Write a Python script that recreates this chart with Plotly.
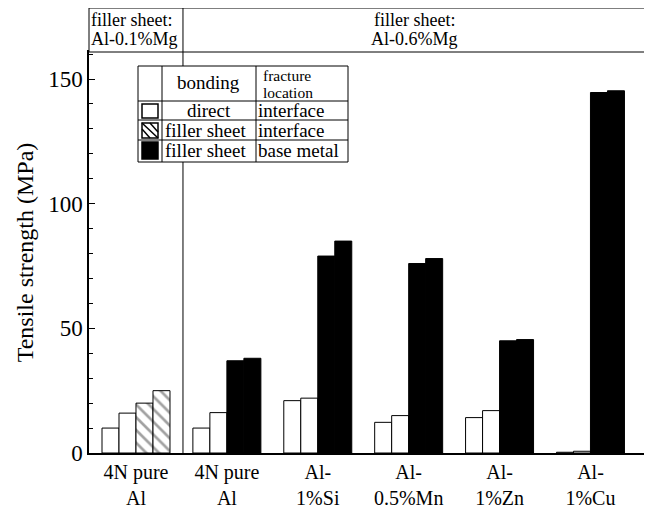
import plotly.graph_objects as go

categories = ["4N pure<br>Al", "4N pure<br>Al", "Al-<br>1%Si", "Al-<br>0.5%Mn", "Al-<br>1%Zn", "Al-<br>1%Cu"]
bar1 = [10, 10, 21, 12.3, 14.2, 0.3]
bar2 = [16, 16.2, 22, 15, 17, 0.7]
bar3 = [20, 37, 79, 76, 45, 144.6]
bar4 = [25, 38, 85, 78, 45.5, 145.3]
bar3_style = ["hatch", "solid", "solid", "solid", "solid", "solid"]
bar4_style = ["hatch", "solid", "solid", "solid", "solid", "solid"]

FONT = "Liberation Serif, Tinos, Times New Roman, DejaVu Serif, serif"
OFF = 8  # page body margin offset
W, H = 652 - OFF, 508 - OFF
# target plot area in page pixels
L, R, T, B = 89, 645, 52, 453

xs = list(range(len(categories)))

def px(X):
    return (X - L) / (R - L)

def py(Y):
    return (B - Y) / (B - T)

fig = go.Figure()

def add_bar(vals, styles):
    colors = ["black" if s == "solid" else "white" for s in styles]
    shapes = ["\\" if s == "hatch" else "" for s in styles]
    fig.add_trace(go.Bar(
        x=xs, y=vals,
        marker=dict(color=colors, line=dict(color="black", width=1),
                    pattern=dict(shape=shapes, fgcolor="black", size=9, solidity=0.3)),
        showlegend=False,
    ))

add_bar(bar1, ["open"] * 6)
add_bar(bar2, ["open"] * 6)
add_bar(bar3, bar3_style)
add_bar(bar4, bar4_style)

shapes = []
# header box
hdr_top = 1 + (T - 8) / (B - T)
shapes.append(dict(type="rect", xref="paper", yref="paper", x0=0, x1=1, y0=1, y1=hdr_top,
                   line=dict(color="black", width=1), fillcolor="white"))
# divider
shapes.append(dict(type="line", xref="x", yref="paper", x0=0.517, x1=0.517, y0=0, y1=hdr_top,
                   line=dict(color="black", width=1)))

# legend table
lx0, lx1, lc1, lc2 = 138, 348, 162, 256
ly0, ly1 = 66, 162
rows = [101, 120, 140]
shapes.append(dict(type="rect", xref="paper", yref="paper", x0=px(lx0), x1=px(lx1), y0=py(ly1), y1=py(ly0),
                   line=dict(color="black", width=1), fillcolor="white"))
for c in (lc1, lc2):
    shapes.append(dict(type="line", xref="paper", yref="paper", x0=px(c), x1=px(c), y0=py(ly1), y1=py(ly0),
                       line=dict(color="black", width=1)))
for r in rows:
    shapes.append(dict(type="line", xref="paper", yref="paper", x0=px(lx0), x1=px(lx1), y0=py(r), y1=py(r),
                       line=dict(color="black", width=1)))
# symbols
sym = [(104, 118, "white"), (123, 138, "hatch"), (142, 159, "black")]
for (y0, y1, kind) in sym:
    fill = "black" if kind == "black" else "white"
    shapes.append(dict(type="rect", xref="paper", yref="paper", x0=px(142), x1=px(158), y0=py(y1), y1=py(y0),
                       line=dict(color="black", width=1.5), fillcolor=fill))
    if kind == "hatch":
        for (a, b, c, d) in [(142, y0, 158, y1), (142, y0 + 6, 150, y1), (150, y0, 158, y1 - 6)]:
            shapes.append(dict(type="line", xref="paper", yref="paper", x0=px(a), x1=px(c), y0=py(b), y1=py(d),
                               line=dict(color="black", width=1.5)))

annotations = []
def txt(X, Y, s, size=16, anchor="center", yanchor="middle"):
    annotations.append(dict(xref="paper", yref="paper", x=px(X), y=py(Y), text=s, showarrow=False,
                            xanchor=anchor, yanchor=yanchor, borderpad=0, borderwidth=0,
                            font=dict(family=FONT, size=size, color="black")))

txt(91, 20, "filler sheet:", 18, "left")
txt(91, 39, "Al-0.1%Mg", 18, "left")
txt(414, 20, "filler sheet:", 18)
txt(414, 39, "Al-0.6%Mg", 18)
txt(208, 83, "bonding", 19)
txt(263, 83.5, "fracture", 15.5, "left", "bottom")
txt(263, 83.5, "location", 15.5, "left", "top")
txt(209, 110, "direct", 19)
txt(165, 130, "filler sheet", 19, "left")
txt(165, 150, "filler sheet", 19, "left")
txt(258, 110, "interface", 19, "left")
txt(258, 130, "interface", 19, "left")
txt(258, 150, "base metal", 19, "left")

fig.update_layout(
    width=W, height=H,
    margin=dict(l=L - OFF, r=W - (R - OFF), t=T - OFF, b=H - (B - OFF), pad=0),
    plot_bgcolor="white", paper_bgcolor="white",
    barmode="group", bargap=0.252, bargroupgap=0,
    shapes=shapes, annotations=annotations,
    font=dict(family=FONT, size=20, color="black"),
    xaxis=dict(range=[-0.517, 5.6], tickvals=xs, ticktext=categories, showgrid=False, zeroline=False,
               showline=True, linecolor="black", linewidth=1.5, mirror=True, ticks="", automargin=False,
               tickfont=dict(family=FONT, size=20, color="black")),
    yaxis=dict(range=[0, 160.85], tickvals=[0, 50, 100, 150], showgrid=False, zeroline=False,
               showline=True, linecolor="black", linewidth=1.5, mirror=True, ticks="inside",
               ticklen=6, tickcolor="black", automargin=False,
               minor=dict(dtick=10, ticks="inside", ticklen=4, tickcolor="black", showgrid=False),
               title=dict(text="Tensile strength (MPa)", font=dict(family=FONT, size=24, color="black"), standoff=8),
               tickfont=dict(family=FONT, size=23, color="black")),
)

fig.write_html("out.html")
